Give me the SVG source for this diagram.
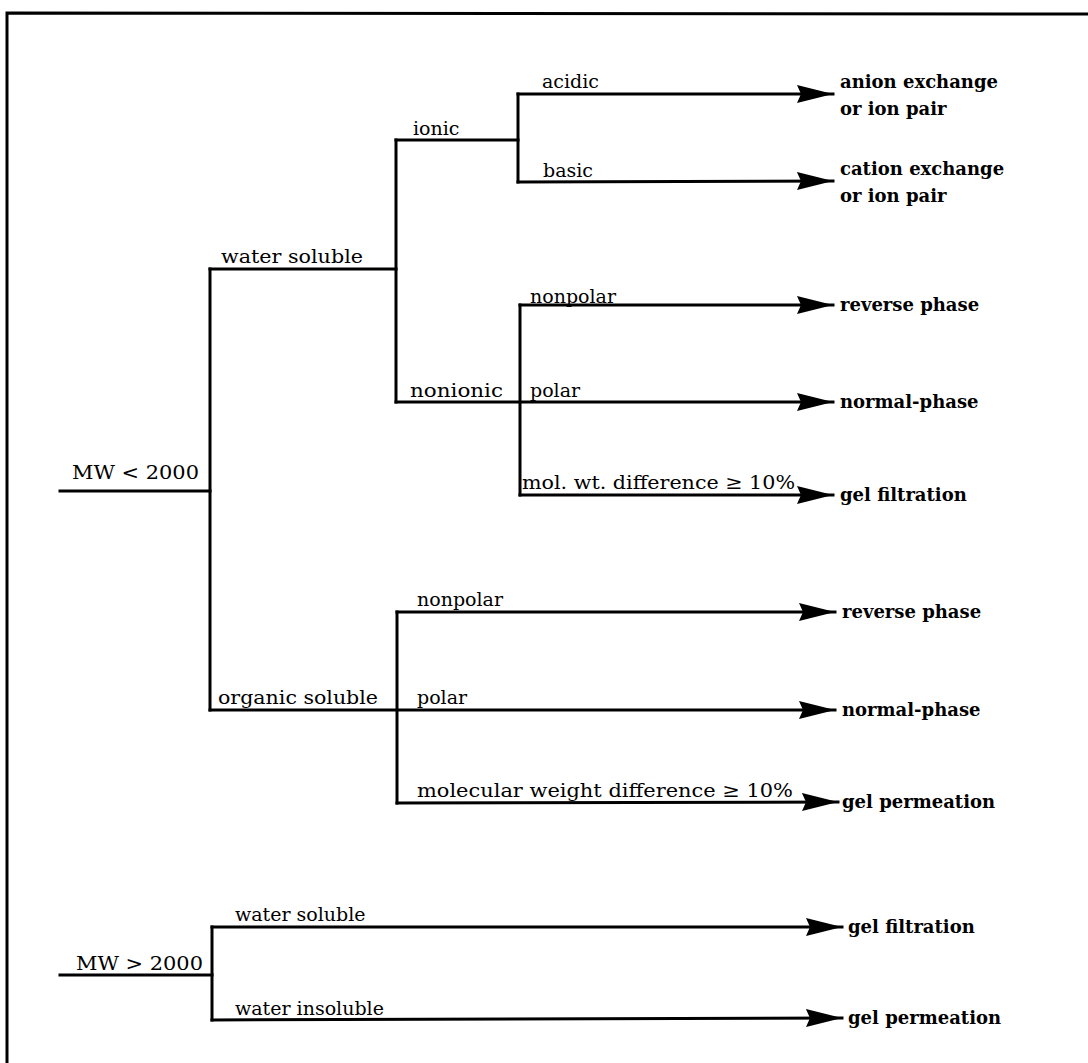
<svg xmlns="http://www.w3.org/2000/svg" width="1088" height="1063" viewBox="0 0 1088 1063">
  <style>
    .ln { fill: none; stroke: #000; stroke-width: 3; stroke-linecap: square; }
    .lbl { font-family: "DejaVu Serif", "Liberation Serif", serif; font-size: 19px; fill: #000; }
    .res { font-family: "DejaVu Serif", "Liberation Serif", serif; font-size: 18px; font-weight: bold; fill: #000; }
  </style>
  <defs>
    <marker id="arrow" markerUnits="userSpaceOnUse" markerWidth="38" markerHeight="20" viewBox="0 0 38 20" refX="36" refY="10" orient="auto">
      <path d="M0,1 L36,10 L0,19 L4,10 z" fill="#000"/>
    </marker>
  </defs>
  <rect width="1088" height="1063" fill="#fff"/>

  <!-- frame: top and left edges -->
  <path class="ln" d="M1088,14 L7,13 L7,1063"/>

  <g id="connectors">
    <!-- MW < 2000 trunk -->
    <path class="ln" d="M60,491 L210,491"/>
    <path class="ln" d="M210,269 L210,710"/>
    <!-- water soluble -->
    <path class="ln" d="M210,269 L396,269"/>
    <path class="ln" d="M396,140 L396,402"/>
    <!-- ionic -->
    <path class="ln" d="M396,140 L518,140"/>
    <path class="ln" d="M518,94 L518,182"/>
    <path class="ln" d="M518,94 L833,94" marker-end="url(#arrow)"/>
    <path class="ln" d="M518,182 L833,181" marker-end="url(#arrow)"/>
    <!-- nonionic -->
    <path class="ln" d="M520,305 L520,495"/>
    <path class="ln" d="M520,305 L833,305" marker-end="url(#arrow)"/>
    <path class="ln" d="M396,402 L833,402" marker-end="url(#arrow)"/>
    <path class="ln" d="M520,495 L833,495" marker-end="url(#arrow)"/>
    <!-- organic soluble -->
    <path class="ln" d="M397,612 L397,803"/>
    <path class="ln" d="M397,612 L835,612" marker-end="url(#arrow)"/>
    <path class="ln" d="M210,710 L835,710" marker-end="url(#arrow)"/>
    <path class="ln" d="M397,803 L838,802" marker-end="url(#arrow)"/>
    <!-- MW > 2000 -->
    <path class="ln" d="M60,975 L212,975"/>
    <path class="ln" d="M212,927 L212,1020"/>
    <path class="ln" d="M212,927 L842,927" marker-end="url(#arrow)"/>
    <path class="ln" d="M212,1020 L842,1018" marker-end="url(#arrow)"/>
  </g>

  <g id="mw-small"><text class="lbl" x="72" y="479" textLength="127" lengthAdjust="spacingAndGlyphs">MW &lt; 2000</text></g>
  <g id="water-soluble"><text class="lbl" x="221" y="263" textLength="142" lengthAdjust="spacingAndGlyphs">water soluble</text></g>
  <g id="ionic"><text class="lbl" x="413" y="135">ionic</text></g>
  <g id="acidic"><text class="lbl" x="542" y="88">acidic</text></g>
  <g id="basic"><text class="lbl" x="543" y="177">basic</text></g>
  <g id="nonionic"><text class="lbl" x="410" y="397" textLength="93" lengthAdjust="spacingAndGlyphs">nonionic</text></g>
  <g id="nonpolar-w"><text class="lbl" x="530" y="303">nonpolar</text></g>
  <g id="polar-w"><text class="lbl" x="530" y="397">polar</text></g>
  <g id="molwt-w"><text class="lbl" x="522" y="489" textLength="273" lengthAdjust="spacingAndGlyphs">mol. wt. difference ≥ 10%</text></g>
  <g id="organic-soluble"><text class="lbl" x="218" y="704" textLength="160" lengthAdjust="spacingAndGlyphs">organic soluble</text></g>
  <g id="nonpolar-o"><text class="lbl" x="417" y="606">nonpolar</text></g>
  <g id="polar-o"><text class="lbl" x="417" y="704">polar</text></g>
  <g id="molwt-o"><text class="lbl" x="417" y="797" textLength="376" lengthAdjust="spacingAndGlyphs">molecular weight difference ≥ 10%</text></g>
  <g id="mw-large"><text class="lbl" x="76" y="970" textLength="127" lengthAdjust="spacingAndGlyphs">MW &gt; 2000</text></g>
  <g id="water-soluble-l"><text class="lbl" x="235" y="921">water soluble</text></g>
  <g id="water-insoluble"><text class="lbl" x="235" y="1015">water insoluble</text></g>

  <g id="anion"><text class="res" x="840" y="88">anion exchange</text><text class="res" x="840" y="115">or ion pair</text></g>
  <g id="cation"><text class="res" x="840" y="175">cation exchange</text><text class="res" x="840" y="202">or ion pair</text></g>
  <g id="reverse-w"><text class="res" x="840" y="311">reverse phase</text></g>
  <g id="normal-w"><text class="res" x="840" y="408">normal-phase</text></g>
  <g id="gelfilt-w"><text class="res" x="840" y="501">gel filtration</text></g>
  <g id="reverse-o"><text class="res" x="842" y="618">reverse phase</text></g>
  <g id="normal-o"><text class="res" x="842" y="716">normal-phase</text></g>
  <g id="gelperm-o"><text class="res" x="842" y="808">gel permeation</text></g>
  <g id="gelfilt-l"><text class="res" x="848" y="933">gel filtration</text></g>
  <g id="gelperm-l"><text class="res" x="848" y="1024">gel permeation</text></g>
</svg>
